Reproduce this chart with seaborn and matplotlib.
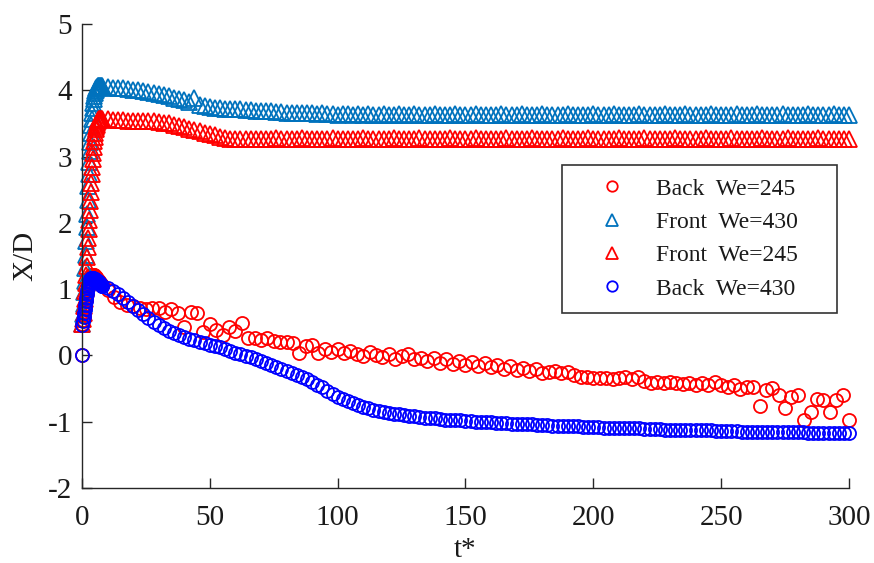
import numpy as np
import matplotlib
matplotlib.use("Agg")
import matplotlib.pyplot as plt
import seaborn as sns

# sampling grid: dense start-up phase, then coarse steps
t_early = np.linspace(0.2, 8.0, 40)

# ---- Front We=430 ----
front430_early = [0.48, 0.62, 0.78, 0.95, 1.13, 1.32, 1.52, 1.72, 1.93, 2.14,
                  2.35, 2.55, 2.74, 2.92, 3.08, 3.22, 3.35, 3.47, 3.57, 3.66,
                  3.74, 3.81, 3.87, 3.92, 3.96, 3.99, 4.01, 4.03, 4.04, 4.05,
                  4.06, 4.06, 4.07, 4.07, 4.07, 4.07, 4.07, 4.06, 4.06, 4.06]
front430_late = [4.05, 4.04, 4.04, 4.03, 4.02, 4.01, 4.00, 3.99, 3.97, 3.96,
                 3.94, 3.93, 3.91, 3.89, 3.87, 3.85, 3.82, 3.89, 3.78, 3.76,
                 3.75, 3.74, 3.73, 3.72, 3.72, 3.71, 3.71, 3.70, 3.70, 3.69,
                 3.69, 3.68, 3.68, 3.67, 3.67, 3.66, 3.66, 3.66, 3.65, 3.65,
                 3.65, 3.64, 3.65, 3.64, 3.64, 3.63, 3.64, 3.64, 3.63, 3.64,
                 3.63, 3.64, 3.63, 3.63, 3.64, 3.63, 3.63, 3.64, 3.63, 3.63,
                 3.64, 3.63, 3.63, 3.63, 3.64, 3.63, 3.63, 3.63, 3.64, 3.63,
                 3.63, 3.63, 3.64, 3.63, 3.63, 3.63, 3.63, 3.64, 3.63, 3.63,
                 3.63, 3.64, 3.63, 3.63, 3.63, 3.64, 3.63, 3.63, 3.63, 3.63,
                 3.64, 3.63, 3.63, 3.63, 3.63, 3.64, 3.63, 3.63, 3.63, 3.64,
                 3.63, 3.63, 3.63, 3.63, 3.64, 3.63, 3.63, 3.63, 3.63, 3.64,
                 3.63, 3.63, 3.63, 3.64, 3.63, 3.63, 3.63, 3.63, 3.64, 3.63,
                 3.63, 3.63, 3.63, 3.64, 3.63, 3.63, 3.63, 3.64, 3.63, 3.63,
                 3.63, 3.63, 3.64, 3.63, 3.63, 3.63, 3.63, 3.64, 3.63, 3.63,
                 3.63, 3.63, 3.64, 3.63, 3.63, 3.63]

# ---- Front We=245 ----
front245_early = [0.47, 0.55, 0.64, 0.74, 0.85, 0.97, 1.09, 1.22, 1.35, 1.49,
                  1.63, 1.77, 1.91, 2.05, 2.19, 2.33, 2.47, 2.60, 2.73, 2.85,
                  2.96, 3.06, 3.15, 3.23, 3.30, 3.36, 3.41, 3.45, 3.48, 3.51,
                  3.53, 3.55, 3.56, 3.57, 3.57, 3.57, 3.57, 3.56, 3.56, 3.56]
front245_late = [3.56, 3.55, 3.55, 3.55, 3.54, 3.54, 3.54, 3.54, 3.53, 3.53,
                 3.52, 3.51, 3.50, 3.48, 3.46, 3.44, 3.42, 3.40, 3.38, 3.36,
                 3.34, 3.32, 3.30, 3.28, 3.27, 3.26, 3.26, 3.26, 3.26, 3.27,
                 3.27, 3.27, 3.27, 3.28, 3.27, 3.27, 3.27, 3.27, 3.28, 3.27,
                 3.27, 3.27, 3.27, 3.27, 3.28, 3.27, 3.27, 3.27, 3.27, 3.27,
                 3.28, 3.27, 3.27, 3.27, 3.27, 3.27, 3.28, 3.27, 3.27, 3.27,
                 3.27, 3.28, 3.27, 3.27, 3.27, 3.27, 3.27, 3.28, 3.27, 3.27,
                 3.27, 3.27, 3.28, 3.27, 3.27, 3.27, 3.27, 3.27, 3.28, 3.27,
                 3.27, 3.27, 3.27, 3.28, 3.27, 3.27, 3.27, 3.27, 3.27, 3.28,
                 3.27, 3.27, 3.27, 3.27, 3.28, 3.27, 3.27, 3.27, 3.27, 3.27,
                 3.28, 3.27, 3.27, 3.27, 3.27, 3.28, 3.27, 3.27, 3.27, 3.27,
                 3.27, 3.28, 3.27, 3.27, 3.27, 3.27, 3.27, 3.28, 3.27, 3.27,
                 3.27, 3.27, 3.28, 3.27, 3.27, 3.27, 3.27, 3.27, 3.28, 3.27,
                 3.27, 3.27, 3.27, 3.28, 3.27, 3.27, 3.27, 3.27, 3.27, 3.28,
                 3.27, 3.27, 3.27, 3.27, 3.27, 3.27]

# ---- Back We=430 ----
back430_early = [0.46, 0.52, 0.58, 0.64, 0.70, 0.76, 0.82, 0.87, 0.92, 0.97,
                 1.01, 1.05, 1.08, 1.11, 1.13, 1.15, 1.16, 1.17, 1.17, 1.17,
                 1.17, 1.17, 1.16, 1.16, 1.15, 1.15, 1.14, 1.14, 1.13, 1.13,
                 1.12, 1.11, 1.10, 1.10, 1.09, 1.08, 1.07, 1.06, 1.05, 1.04]
back430_late = [1.02, 0.97, 0.92, 0.87, 0.81, 0.75, 0.69, 0.62, 0.56, 0.51,
                0.46, 0.41, 0.37, 0.34, 0.31, 0.28, 0.25, 0.23, 0.20, 0.18,
                0.16, 0.14, 0.12, 0.09, 0.07, 0.04, 0.02, -0.01, -0.03, -0.06,
                -0.09, -0.12, -0.15, -0.18, -0.21, -0.24, -0.27, -0.30, -0.33, -0.36,
                -0.40, -0.44, -0.48, -0.53, -0.58, -0.62, -0.66, -0.69, -0.72, -0.75,
                -0.78, -0.80, -0.82, -0.84, -0.85, -0.87, -0.88, -0.89, -0.90, -0.91,
                -0.92, -0.93, -0.94, -0.95, -0.95, -0.96, -0.97, -0.97, -0.98, -0.98,
                -0.99, -0.99, -1.00, -1.00, -1.01, -1.01, -1.02, -1.02, -1.02, -1.03,
                -1.03, -1.04, -1.04, -1.04, -1.05, -1.05, -1.05, -1.06, -1.06, -1.06,
                -1.07, -1.07, -1.07, -1.08, -1.08, -1.08, -1.08, -1.09, -1.09, -1.09,
                -1.09, -1.10, -1.10, -1.10, -1.10, -1.11, -1.11, -1.11, -1.11, -1.12,
                -1.12, -1.12, -1.12, -1.12, -1.13, -1.13, -1.13, -1.13, -1.13, -1.14,
                -1.14, -1.14, -1.14, -1.14, -1.15, -1.15, -1.15, -1.15, -1.15, -1.15,
                -1.16, -1.16, -1.16, -1.16, -1.16, -1.16, -1.16, -1.17, -1.17, -1.17,
                -1.17, -1.17, -1.17, -1.17, -1.17, -1.17]

# ---- Back We=245 ----
back245_early = [0.47, 0.53, 0.59, 0.65, 0.71, 0.77, 0.83, 0.88, 0.93, 0.98,
                 1.02, 1.06, 1.10, 1.13, 1.16, 1.18, 1.20, 1.21, 1.22, 1.22,
                 1.22, 1.22, 1.21, 1.21, 1.20, 1.19, 1.18, 1.17, 1.16, 1.15,
                 1.14, 1.13, 1.12, 1.11, 1.10, 1.09, 1.08, 1.07, 1.06, 1.05]
back245_late = [0.98, 0.88, 0.80, 0.76, 0.74, 0.72, 0.70, 0.71, 0.72, 0.66,
                0.70, 0.64, 0.43, 0.66, 0.64, 0.36, 0.48, 0.38, 0.31, 0.43,
                0.37, 0.49, 0.26, 0.27, 0.24, 0.26, 0.22, 0.20, 0.21, 0.19,
                0.04, 0.14, 0.16, 0.04, 0.10, 0.05, 0.09, 0.04, 0.06, 0.02,
                -0.01, 0.05, 0.01, -0.03, 0.02, -0.05, -0.01, 0.02, -0.06, -0.04,
                -0.09, -0.04, -0.11, -0.06, -0.13, -0.09, -0.14, -0.10, -0.16, -0.12,
                -0.18, -0.15, -0.20, -0.16, -0.22, -0.19, -0.24, -0.21, -0.26, -0.25,
                -0.23, -0.27, -0.25, -0.30, -0.33, -0.33, -0.34, -0.34, -0.34, -0.35,
                -0.34, -0.33, -0.35, -0.32, -0.38, -0.41, -0.40, -0.42, -0.40, -0.42,
                -0.43, -0.41, -0.44, -0.42, -0.45, -0.40, -0.44, -0.47, -0.45, -0.50,
                -0.48, -0.47, -0.77, -0.52, -0.49, -0.59, -0.79, -0.62, -0.59, -0.97,
                -0.85, -0.65, -0.67, -0.85, -0.67, -0.59, -0.97]

# every series starts from X/D = 0 at t* = 0 (only the back ones show it)
t_start = [0.0]
y_start = [0.0]

t_front430 = np.concatenate([t_early, np.linspace(10, 300, len(front430_late))])
y_front430 = np.array(front430_early + front430_late)
t_front245 = np.concatenate([t_early, np.linspace(10, 300, len(front245_late))])
y_front245 = np.array(front245_early + front245_late)
t_back430 = np.concatenate([t_start, t_early, np.linspace(10, 300, len(back430_late))])
y_back430 = np.array(y_start + back430_early + back430_late)
t_back245 = np.concatenate([t_start, t_early, np.linspace(10, 300, len(back245_late))])
y_back245 = np.array(y_start + back245_early + back245_late)

sns.set_style("ticks")
plt.rcParams["font.family"] = ["Liberation Serif", "DejaVu Serif"]
plt.rcParams["axes.unicode_minus"] = False

fig = plt.figure(figsize=(8.74, 5.63), dpi=100)
ax = fig.add_axes([0.0938, 0.1332, 0.8776, 0.8242])

series = [
    ("Back  We=245", t_back245, y_back245, "o", 9.4, "#ff0000"),
    ("Front  We=430", t_front430, y_front430, "^", 11.0, "#0072bd"),
    ("Front  We=245", t_front245, y_front245, "^", 11.0, "#ff0000"),
    ("Back  We=430", t_back430, y_back430, "o", 9.4, "#0000ff"),
]
for lab, t, y, mk, ms, col in series:
    sns.lineplot(x=t, y=y, ax=ax, estimator=None, sort=False,
                 linestyle="none", marker=mk, markersize=ms,
                 markerfacecolor="none", markeredgecolor=col,
                 markeredgewidth=1.3, color=col, label=lab, clip_on=False)

ax.set_xlim(0, 300)
ax.set_ylim(-2, 5)
ax.set_xticks(range(0, 301, 50))
ax.set_yticks(range(-2, 6))
sns.despine(ax=ax)
for s in ["left", "bottom"]:
    ax.spines[s].set_color("#262626")
    ax.spines[s].set_linewidth(1.0)
ax.tick_params(direction="in", length=7, width=1.0, colors="#262626",
               labelcolor="#1a1a1a", labelsize=21)
ax.tick_params(axis="x", pad=12)
ax.tick_params(axis="y", pad=7)

ax.set_xlabel("t*", fontsize=21, color="#1a1a1a")
ax.xaxis.set_label_coords(0.5, -0.105)
ax.set_ylabel("X/D", fontsize=21, color="#1a1a1a")
ax.yaxis.set_label_coords(-0.057, 0.5)

leg = ax.legend(loc="upper left", bbox_to_anchor=(0.6258, 0.3772, 0.3586, 0.3189),
                mode="expand", fontsize=17, frameon=True, fancybox=False,
                framealpha=1, edgecolor="#333333", borderpad=0.55,
                handlelength=3.1, handletextpad=0.35, labelspacing=0.5,
                borderaxespad=0, markerscale=0.8)
leg.get_frame().set_linewidth(1.2)
for txt in leg.get_texts():
    txt.set_color("#1a1a1a")

plt.savefig("out.png", dpi=100)
